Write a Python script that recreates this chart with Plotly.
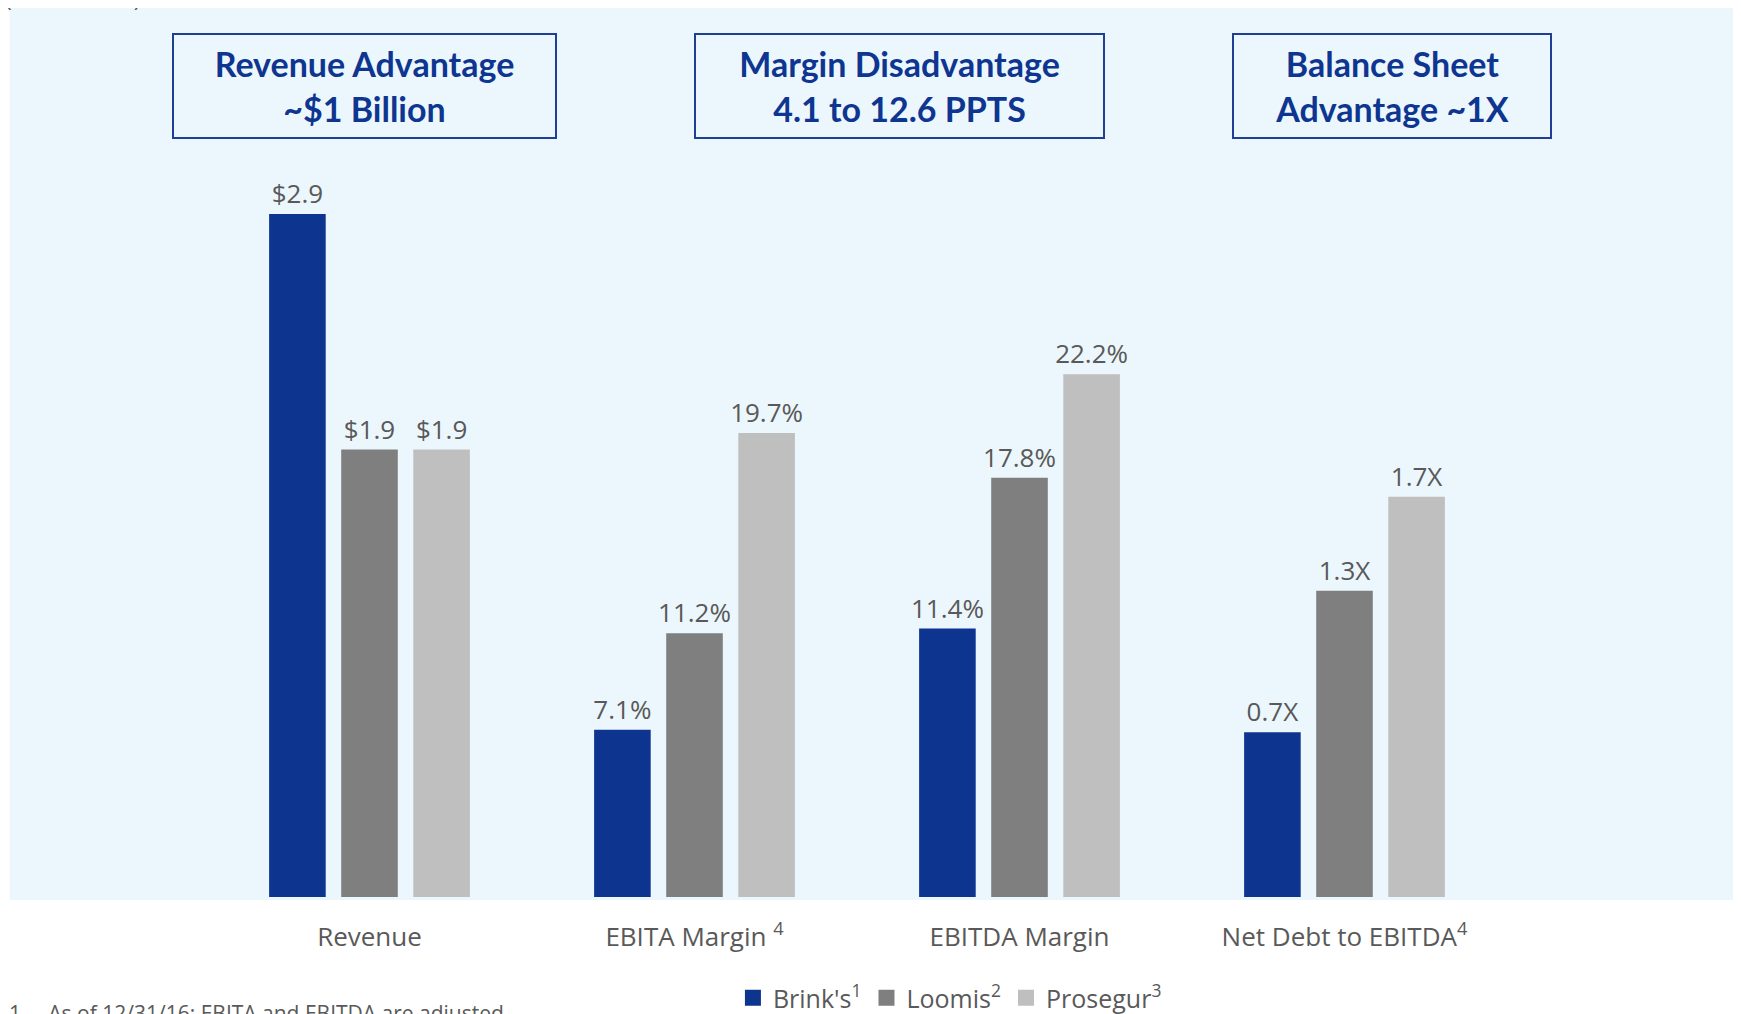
import plotly.graph_objects as go

# ---- data ----
categories = ["Revenue", "EBITA Margin", "EBITDA Margin", "Net Debt to EBITDA"]
tick_labels = ["Revenue", "EBITA Margin <sup>4</sup>", "EBITDA Margin", "Net Debt to EBITDA<sup>4</sup>"]
companies = ["Brink's<sup>1</sup>", "Loomis<sup>2</sup>", "Prosegur<sup>3</sup>"]
brinks = [2.9, 7.1, 11.4, 0.7]
loomis = [1.9, 11.2, 17.8, 1.3]
prosegur = [1.9, 19.7, 22.2, 1.7]
# chart draws each category on a shared visual scale ($B x10, % x1, X x10)
display_scale = [10, 1, 1, 10]
label_fmt = ["${:.1f}", "{:.1f}%", "{:.1f}%", "{:.1f}X"]
box_titles = ["Revenue Advantage<br>~$1 Billion",
              "Margin Disadvantage<br>4.1 to 12.6 PPTS",
              "Balance Sheet<br>Advantage ~1X"]

colors = ["#0D348F", "#7F7F7F", "#BFBFBF"]
navy = "#0E3690"
label_gray = "#595959"
bg_blue = "#ECF7FD"
FONT = "Open Sans"

OFF = 8  # page body margin
W, H = 1741, 1014
ml = 206.5 - OFF
mt = 150 - OFF
pw = 1301
base_screen = 897
mb = H - (base_screen - OFF)
mr = W - ml - pw
ph = H - mt - mb


def px2paper_x(sx):
    return (sx - OFF - ml) / pw


def px2paper_y(sy):
    return (H - mb - (sy - OFF)) / ph


fig = go.Figure()
for name, vals, col in zip(companies, [brinks, loomis, prosegur], colors):
    fig.add_trace(go.Bar(
        x=list(range(len(categories))),
        y=[v * s for v, s in zip(vals, display_scale)],
        name=name, showlegend=False,
        marker=dict(color=col, line=dict(width=0)),
        text=[f.format(v) for f, v in zip(label_fmt, vals)],
        textposition="outside", constraintext="none",
        textfont=dict(family=FONT, size=26, color=label_gray),
        cliponaxis=False,
    ))
    # legend entry with a larger square swatch
    fig.add_trace(go.Scatter(
        x=[None], y=[None], mode="markers", name=name,
        marker=dict(symbol="square", size=16, color=col),
    ))

# background panel
fig.add_shape(type="rect", xref="paper", yref="paper",
              x0=px2paper_x(9), x1=px2paper_x(1760),
              y0=px2paper_y(900), y1=px2paper_y(4),
              fillcolor=bg_blue, line=dict(width=0), layer="below")

# headline boxes (screen px)
box_specs = [(172, 557), (694, 1105), (1232, 1552)]
for (x0, x1), t in zip(box_specs, box_titles):
    fig.add_annotation(
        x=px2paper_x((x0 + x1) / 2), y=px2paper_y(86), xref="paper", yref="paper",
        text=f"<b>{t}</b>", showarrow=False,
        font=dict(family="Lato", size=34, color=navy),
        bordercolor="#1F3F95", borderwidth=2, borderpad=0,
        bgcolor=bg_blue, width=(x1 - x0) - 4, height=102,
        xanchor="center", yanchor="middle", align="center")

# cut-off unit note at top-left and footnote at bottom
fig.add_annotation(x=px2paper_x(2), y=px2paper_y(-3), xref="paper", yref="paper",
                   text="($ in Billions)", showarrow=False, xanchor="left", yanchor="middle",
                   font=dict(family=FONT, size=23, color=label_gray))
fig.add_annotation(x=px2paper_x(6), y=px2paper_y(1013), xref="paper", yref="paper",
                   text="1.    As of 12/31/16; EBITA and EBITDA are adjusted", showarrow=False,
                   xanchor="left", yanchor="middle",
                   font=dict(family=FONT, size=21, color=label_gray))

fig.update_layout(
    width=W, height=H,
    margin=dict(l=ml, r=mr, t=mt, b=mb, autoexpand=False),
    paper_bgcolor="white", plot_bgcolor="rgba(0,0,0,0)",
    barmode="group", bargap=0.3345, bargroupgap=0.215,
    showlegend=True,
    legend=dict(orientation="h", x=px2paper_x(950), xanchor="center",
                y=px2paper_y(998), yanchor="middle",
                font=dict(family=FONT, size=25, color=label_gray),
                bgcolor="rgba(0,0,0,0)", traceorder="normal"),
    xaxis=dict(tickmode="array", tickvals=list(range(len(categories))), ticktext=tick_labels,
               range=[-0.5, len(categories) - 0.5], showgrid=False, zeroline=False,
               showline=False, ticks="", ticklabelstandoff=22,
               tickfont=dict(family=FONT, size=26, color=label_gray)),
    yaxis=dict(range=[0, ph / 23.55], visible=False, showgrid=False, zeroline=False),
)

fig.write_html("out.html")
